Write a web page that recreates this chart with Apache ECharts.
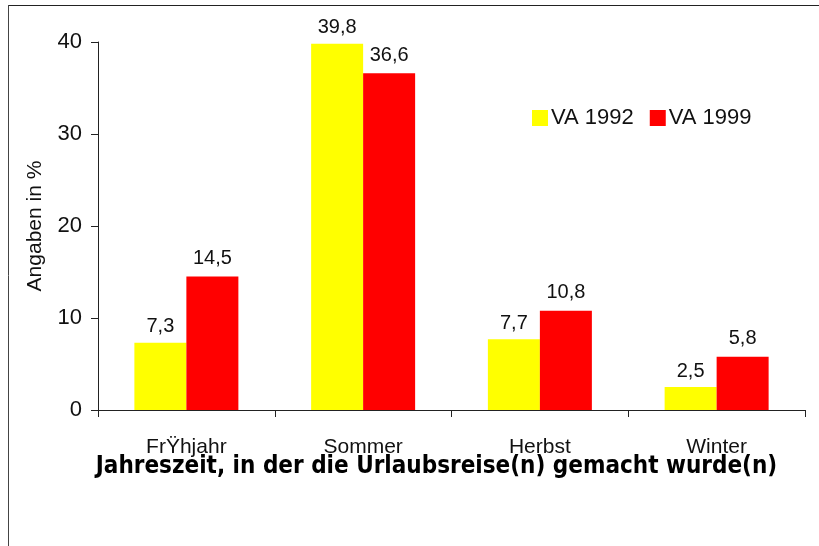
<!DOCTYPE html>
<html>
<head>
<meta charset="utf-8">
<script src="https://cdn.jsdelivr.net/npm/echarts@6/dist/echarts.min.js"></script>
<style>
  html, body { margin: 0; padding: 0; background: #fff; }
  #main { width: 819px; height: 546px; }
</style>
</head>
<body>
<div id="main"></div>
<script>
// Jahreszeiten
const categories = ["FrŸhjahr", "Sommer", "Herbst", "Winter"];
// Angaben in %
const va1992 = [7.3, 39.8, 7.7, 2.5];
const va1999 = [14.5, 36.6, 10.8, 5.8];
const yTicks = [0, 10, 20, 30, 40];

const myChart = echarts.init(document.getElementById("main"));

const labelFmt = (p) => String(p.value).replace(".", ",");

const option = {
  animation: false,
  grid: { left: 98, right: 14, top: 42, bottom: 136 },
  legend: {
    left: 527,
    top: 102,
    itemWidth: 16,
    itemHeight: 16,
    itemGap: 16,
    icon: "rect",
    textStyle: { fontFamily: "Liberation Sans", fontSize: 22, color: "#111", padding: [0, 0, 0, -2] },
    data: ["VA 1992", "VA 1999"],
  },
  xAxis: {
    type: "category",
    data: categories,
    name: "Jahreszeit, in der die Urlaubsreise(n) gemacht wurde(n)",
    nameLocation: "middle",
    nameGap: 45,
    nameMoveOverlap: false,
    nameTextStyle: {
      fontFamily: "DejaVu Sans Condensed",
      fontWeight: "bold",
      fontSize: 24,
      color: "#000",
      padding: [0, 30, 0, 0],
    },
    axisLine: { lineStyle: { color: "#222", width: 1 } },
    axisTick: { show: true, length: 7, lineStyle: { color: "#222" } },
    axisLabel: {
      fontFamily: "Liberation Sans",
      fontSize: 21,
      color: "#111",
      margin: 27,
    },
  },
  yAxis: {
    type: "value",
    min: 0,
    max: 40,
    interval: 10,
    name: "Angaben in %",
    nameLocation: "middle",
    nameGap: 52,
    nameMoveOverlap: false,
    nameTextStyle: { fontFamily: "Liberation Sans", fontSize: 21, color: "#111" },
    axisLine: { show: true, onZero: false, lineStyle: { color: "#222", width: 1 } },
    axisTick: { show: true, length: 7, lineStyle: { color: "#222" } },
    splitLine: { show: false },
    axisLabel: {
      fontFamily: "Liberation Sans",
      fontSize: 22,
      color: "#111",
      margin: 16,
      formatter: (v) => (yTicks.includes(v) ? String(v) : ""),
    },
  },
  series: [
    {
      name: "VA 1992",
      type: "bar",
      data: va1992,
      barWidth: 52,
      barGap: "0%",
      itemStyle: { color: "#ffff00" },
      label: {
        show: true,
        position: "top",
        distance: 6,
        fontFamily: "Liberation Sans",
        fontSize: 20,
        color: "#111",
        formatter: labelFmt,
      },
    },
    {
      name: "VA 1999",
      type: "bar",
      data: va1999,
      barWidth: 52,
      barGap: "0%",
      itemStyle: { color: "#ff0000" },
      label: {
        show: true,
        position: "top",
        distance: 8,
        fontFamily: "Liberation Sans",
        fontSize: 20,
        color: "#111",
        formatter: labelFmt,
      },
    },
  ],
  graphic: [
    { type: "line", shape: { x1: 9, y1: 5.5, x2: 819, y2: 5.5 }, style: { stroke: "#222", lineWidth: 1 } },
    { type: "line", shape: { x1: 8.5, y1: 5, x2: 8.5, y2: 546 }, style: { stroke: "#444", lineWidth: 1 } },
  ],
};

myChart.setOption(option);
</script>
</body>
</html>
